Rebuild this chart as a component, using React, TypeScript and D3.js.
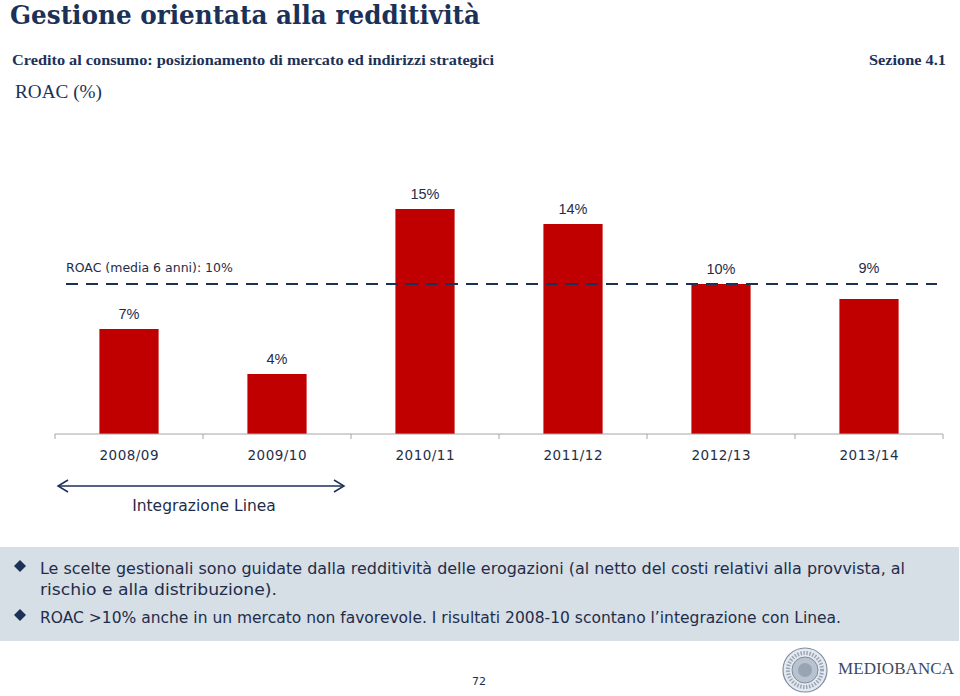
import React from "react";
import * as d3 from "d3";

const categories = ["2008/09", "2009/10", "2010/11", "2011/12", "2012/13", "2013/14"];
const roacValues = [7, 4, 15, 14, 10, 9];
const averageValue = 10;
const averageLabel = "ROAC (media 6 anni): 10%";
const titleText = "Gestione orientata alla redditività";
const subtitleText = "Credito al consumo: posizionamento di mercato ed indirizzi strategici";
const sectionText = "Sezione 4.1";
const chartTitle = "ROAC (%)";
const arrowLabel = "Integrazione Linea";
const bulletLines = [
  ["Le scelte gestionali sono guidate dalla redditività delle erogazioni (al netto del costi relativi alla provvista, al", "rischio e alla distribuzione)."],
  ["ROAC >10% anche in un mercato non favorevole. I risultati 2008-10 scontano l’integrazione con Linea."],
];
const pageNumber = "72";
const brandName = "MEDIOBANCA";

const NAVY = "#1b3158";
const TEXT = "#1f2d4a";
const RED = "#c00000";

export default function App() {
  const x = d3.scaleBand<string>().domain(categories).range([55, 943]);
  const y = d3.scaleLinear().domain([0, 16]).range([434, 194]);
  const barW = x.bandwidth() * 0.4;
  const avgY = y(averageValue);
  const tickXs = categories.map((c) => x(c)!).concat([943]);
  const sans = "'DejaVu Sans', Verdana, sans-serif";
  const serif = "'DejaVu Serif', Georgia, serif";
  const tserif = "'Liberation Serif', 'Times New Roman', serif";

  return (
    <svg
      width={960}
      height={696}
      style={{ position: "absolute", left: 0, top: 0, background: "#fff" }}
    >
      <text x={10} y={24} fontFamily={serif} fontWeight="bold" fontSize={26} fill={NAVY} textLength={470} lengthAdjust="spacingAndGlyphs">
        {titleText}
      </text>
      <text x={12} y={65} fontFamily={tserif} fontWeight="bold" fontSize={15.5} fill={NAVY} textLength={482} lengthAdjust="spacingAndGlyphs">
        {subtitleText}
      </text>
      <text x={869} y={65} fontFamily={tserif} fontWeight="bold" fontSize={15.5} fill={NAVY} textLength={77} lengthAdjust="spacingAndGlyphs">
        {sectionText}
      </text>
      <text x={15} y={98} fontFamily={tserif} fontSize={18.5} fill={NAVY} textLength={87} lengthAdjust="spacingAndGlyphs">
        {chartTitle}
      </text>

      {/* bars */}
      {categories.map((c, i) => {
        const cx = x(c)! + x.bandwidth() / 2;
        const top = y(roacValues[i]);
        let ly = top - 15;
        if (Math.abs(ly - avgY) < 10) ly = avgY - 16;
        return (
          <g key={c}>
            <rect x={cx - barW / 2} y={top} width={barW} height={y(0) - top} fill={RED} />
            <text x={cx} y={ly} dy="0.35em" textAnchor="middle" fontFamily="'Liberation Sans', Arial, sans-serif" fontSize={14.5} fill={TEXT}>
              {roacValues[i]}%
            </text>
            <text x={cx} y={455} dy="0.35em" textAnchor="middle" fontFamily={sans} fontSize={13.5} fill={TEXT} textLength={59} lengthAdjust="spacing">
              {c}
            </text>
          </g>
        );
      })}

      {/* average line */}
      <line x1={66} x2={937} y1={avgY} y2={avgY} stroke={NAVY} strokeWidth={2} strokeDasharray="12,8" />
      <text x={66} y={avgY - 16} dy="0.35em" fontFamily={sans} fontSize={12.5} fill={TEXT}>
        {averageLabel}
      </text>

      {/* axis */}
      <line x1={55} x2={943} y1={434} y2={434} stroke="#a6a6a6" strokeWidth={1} />
      {tickXs.map((tx, i) => (
        <line key={i} x1={tx} x2={tx} y1={434} y2={439} stroke="#a6a6a6" strokeWidth={1} />
      ))}

      {/* arrow */}
      <line x1={58} x2={344} y1={486} y2={486} stroke={NAVY} strokeWidth={1.5} />
      <polyline points="68,480 58,486 68,492" fill="none" stroke={NAVY} strokeWidth={1.5} />
      <polyline points="334,480 344,486 334,492" fill="none" stroke={NAVY} strokeWidth={1.5} />
      <text x={204} y={506} dy="0.35em" textAnchor="middle" fontFamily={sans} fontSize={15.5} fill={TEXT}>
        {arrowLabel}
      </text>

      {/* bullet box */}
      <rect x={0} y={547} width={959} height={94} fill="#d6dee6" />
      {bulletLines.map((lines, bi) => {
        const baseY = bi === 0 ? 574 : 623;
        return (
          <g key={bi}>
            <path d={`M20,${baseY - 8} l6,-6 l6,6 l-6,6 z`} fill={NAVY} transform={`translate(-6,0)`} />
            {lines.map((ln, li) => (
              <text
                key={li}
                x={40}
                y={baseY + li * 21}
                fontFamily={sans}
                fontSize={15.5}
                fill={TEXT}
                textLength={li === 0 && bi === 0 ? 865 : bi === 1 ? 801 : 237}
                lengthAdjust="spacingAndGlyphs"
              >
                {ln}
              </text>
            ))}
          </g>
        );
      })}

      {/* footer */}
      <text x={479} y={685} textAnchor="middle" fontFamily={sans} fontSize={11} fill={TEXT}>
        {pageNumber}
      </text>
      <g>
        <circle cx={805} cy={670} r={22} fill="#e4e9ef" stroke="#7f8ca2" strokeWidth={1.2} />
        <circle cx={805} cy={670} r={17} fill="none" stroke="#9aa5b6" strokeWidth={4} strokeDasharray="1.5,1.5" />
        <circle cx={805} cy={670} r={13} fill="#b9c2cf" stroke="#7f8ca2" strokeWidth={1} />
        <circle cx={805} cy={670} r={7} fill="#98a3b4" />
      </g>
      <text x={838} y={674} fontFamily={tserif} fontSize={17} fill="#3b4a63" textLength={116} lengthAdjust="spacing">
        {brandName}
      </text>
    </svg>
  );
}
